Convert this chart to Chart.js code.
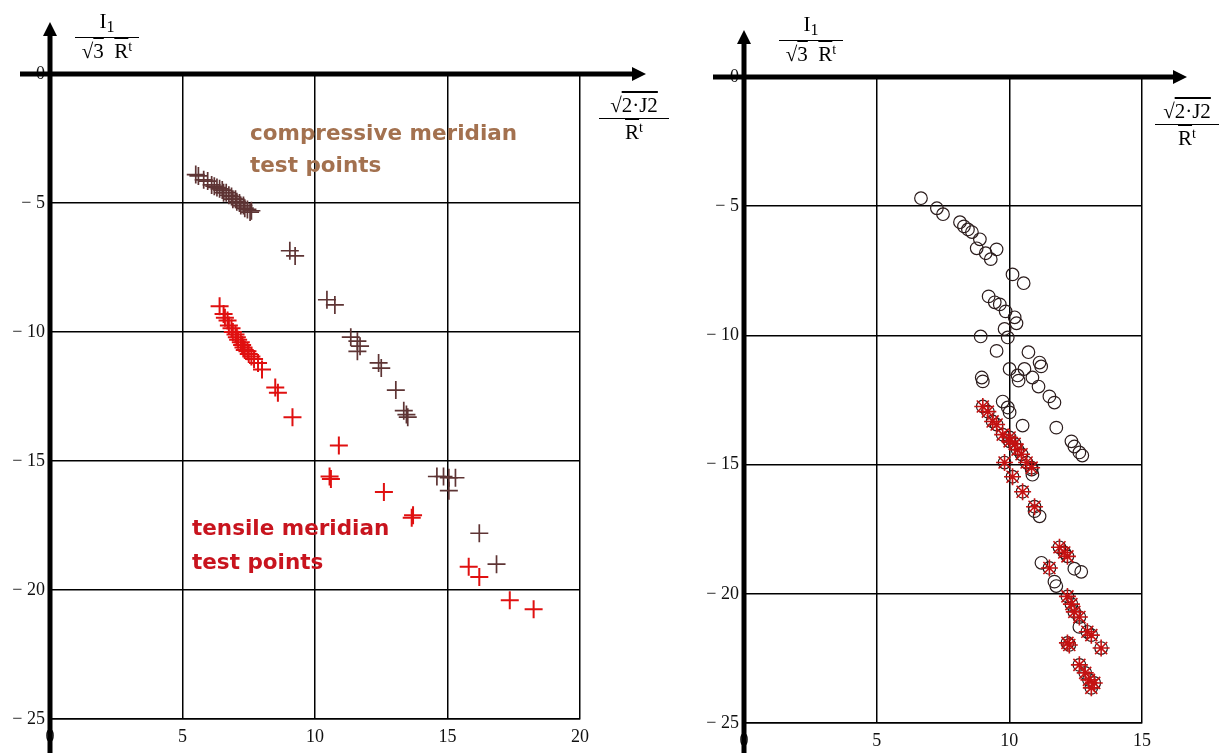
<!DOCTYPE html>
<html>
<head>
<meta charset="utf-8">
<script src="https://cdn.jsdelivr.net/npm/chart.js@4.4.1/dist/chart.umd.min.js"></script>
<style>
  body { margin: 0; background: #fff; }
  #wrap { position: relative; width: 1219px; height: 753px; overflow: hidden; background: #fff; }
  canvas { position: absolute; top: 0; }
  .frac { position: absolute; font-family: "Liberation Serif", "Times New Roman", serif; font-size: 21px;
          color: #000; text-align: center; line-height: 1; }
  .frac .num { border-bottom: 1.5px solid #000; padding-bottom: 2px; }
  .frac .den { padding-top: 2px; }
  .frac sub { font-size: 16px; vertical-align: -4px; }
  .frac sup { font-size: 14px; vertical-align: 7px; }
  .ov { text-decoration: overline; }
  .note { position: absolute; font-family: "DejaVu Sans", Verdana, sans-serif; font-weight: bold; font-size: 21.5px; }
</style>
</head>
<body>
<div id="wrap">
  <canvas id="left" width="690" height="753" style="left:0px"></canvas>
  <canvas id="right" width="529" height="753" style="left:690px"></canvas>

  <div class="frac" style="left:75px; top:11px; width:64px;">
    <div class="num">I<sub>1</sub></div>
    <div class="den">√<span class="ov">3</span>&nbsp;&nbsp;<span class="ov">R</span><sup>t</sup></div>
  </div>
  <div class="frac" style="left:599px; top:95px; width:70px;">
    <div class="num">√<span class="ov">2·J2</span></div>
    <div class="den"><span class="ov">R</span><sup>t</sup></div>
  </div>
  <div class="frac" style="left:779px; top:14px; width:64px;">
    <div class="num">I<sub>1</sub></div>
    <div class="den">√<span class="ov">3</span>&nbsp;&nbsp;<span class="ov">R</span><sup>t</sup></div>
  </div>
  <div class="frac" style="left:1155px; top:101px; width:64px;">
    <div class="num">√<span class="ov">2·J2</span></div>
    <div class="den"><span class="ov">R</span><sup>t</sup></div>
  </div>

  <div class="note" style="left:250px; top:117px; line-height:32px; color:#a3714f;">compressive meridian<br>test points</div>
  <div class="note" style="left:192px; top:511px; line-height:34px; color:#c8141e;">tensile meridian<br>test points</div>
</div>

<script>
// left panel: compressive (brown) and tensile (red) meridian test points
const compressiveLeft = [
  [5.5, -3.9], [5.6, -3.95], [5.8, -4.1], [5.95, -4.15], [6.1, -4.3], [6.2, -4.35], [6.3, -4.4],
  [6.4, -4.45], [6.5, -4.5], [6.55, -4.6], [6.65, -4.6], [6.75, -4.7], [6.85, -4.75], [6.9, -4.85],
  [7.0, -4.85], [7.05, -4.95], [7.15, -5.0], [7.2, -5.1], [7.3, -5.1], [7.35, -5.2], [7.45, -5.25],
  [7.55, -5.35], [7.6, -5.3],
  [9.05, -6.85], [9.25, -7.05], [10.45, -8.75], [10.75, -8.95],
  [11.35, -10.2], [11.6, -10.35], [11.7, -10.55], [11.6, -10.75], [12.4, -11.2], [12.5, -11.4],
  [13.05, -12.25], [13.35, -13.05], [13.5, -13.3], [13.45, -13.2],
  [14.6, -15.6], [14.85, -15.6], [15.05, -15.65], [15.3, -15.65], [15.05, -16.15],
  [16.2, -17.8], [16.85, -19.0]
];
const tensileLeft = [
  [6.4, -9.0], [6.55, -9.3], [6.6, -9.45], [6.7, -9.55], [6.75, -9.75], [6.85, -9.85], [6.9, -10.0],
  [7.0, -10.1], [7.05, -10.2], [7.1, -10.3], [7.2, -10.4], [7.25, -10.5], [7.3, -10.6], [7.35, -10.7],
  [7.45, -10.75], [7.5, -10.85], [7.6, -10.95], [7.7, -11.05], [7.85, -11.2], [8.0, -11.45],
  [8.5, -12.15], [8.6, -12.35], [9.15, -13.3], [10.9, -14.4], [10.55, -15.6], [10.6, -15.7],
  [12.6, -16.2], [13.7, -17.1], [13.65, -17.2], [15.8, -19.1], [16.2, -19.5], [17.35, -20.4],
  [18.25, -20.75]
];

// right panel: all test points (circles) and tensile ones (red stars)
const circlesRight = [
  [6.67, -4.69], [7.27, -5.08], [7.5, -5.31], [8.14, -5.62], [8.29, -5.78], [8.44, -5.9], [8.59, -6.0],
  [8.89, -6.28], [8.77, -6.63], [9.11, -6.82], [9.52, -6.67], [9.3, -7.05], [10.12, -7.64],
  [10.54, -7.98], [9.22, -8.49], [9.45, -8.72], [9.64, -8.8], [9.86, -9.07], [10.2, -9.3],
  [10.27, -9.53], [9.82, -9.75], [8.92, -10.04], [9.94, -10.08], [9.52, -10.6], [10.72, -10.65],
  [11.14, -11.05], [11.2, -11.2], [10.01, -11.3], [10.57, -11.3], [10.31, -11.55], [10.35, -11.75],
  [8.96, -11.63], [9.0, -11.78], [10.87, -11.63], [11.1, -11.98], [11.51, -12.36], [11.7, -12.6],
  [9.75, -12.56], [9.94, -12.79], [10.01, -12.98], [10.5, -13.49], [11.77, -13.57], [12.34, -14.1],
  [12.45, -14.3], [12.64, -14.53], [12.75, -14.65], [10.84, -15.19], [10.87, -15.39], [10.95, -16.8],
  [11.14, -17.0], [11.21, -18.8], [12.45, -19.03], [12.71, -19.15], [11.7, -19.53], [11.77, -19.7],
  [12.64, -21.28]
];
const starsRight = [
  [9.0, -12.75], [9.19, -12.95], [9.37, -13.33], [9.52, -13.45], [9.75, -13.84], [10.01, -13.95],
  [10.01, -14.1], [10.2, -14.2], [10.31, -14.42], [10.46, -14.6], [10.65, -14.92], [10.84, -15.12],
  [9.82, -14.92], [10.12, -15.47], [10.5, -16.05], [10.95, -16.63], [11.89, -18.2], [12.07, -18.4],
  [12.19, -18.55], [11.51, -19.0], [12.19, -20.1], [12.34, -20.4], [12.45, -20.7], [12.64, -20.9],
  [12.94, -21.47], [13.09, -21.6], [12.19, -21.9], [12.26, -21.98], [13.46, -22.1], [12.64, -22.75],
  [12.86, -23.06], [13.0, -23.33], [13.2, -23.45], [13.09, -23.64]
];

const xTicksLeft = [0, 5, 10, 15, 20];
const xTicksRight = [0, 5, 10, 15];
const yTicks = [0, -5, -10, -15, -20, -25];

const toPts = arr => arr.map(p => ({ x: p[0], y: p[1] }));

// thick axes through the origin with arrow heads, like the Mathcad plot
const axisArrows = {
  id: 'axisArrows',
  beforeDatasetsDraw(chart, args, opts) {
    const { ctx, scales: { x, y } } = chart;
    const x0 = x.getPixelForValue(0), y0 = y.getPixelForValue(0);
    ctx.save();
    ctx.strokeStyle = '#000';
    ctx.fillStyle = '#000';
    ctx.lineWidth = 5;
    ctx.beginPath();
    ctx.moveTo(x0, opts.top + 10);
    ctx.lineTo(x0, chart.height);
    ctx.moveTo(opts.left, y0);
    ctx.lineTo(opts.right - 10, y0);
    ctx.stroke();
    ctx.beginPath();
    ctx.moveTo(x0, opts.top);
    ctx.lineTo(x0 - 7, opts.top + 14);
    ctx.lineTo(x0 + 7, opts.top + 14);
    ctx.closePath();
    ctx.fill();
    ctx.beginPath();
    ctx.moveTo(opts.right, y0);
    ctx.lineTo(opts.right - 14, y0 - 7);
    ctx.lineTo(opts.right - 14, y0 + 7);
    ctx.closePath();
    ctx.fill();
    ctx.restore();
  }
};

function makeOptions(xTicks, yWidth, xHeight, pad, arrows) {
  const tickFont = { family: "'Liberation Serif', 'Times New Roman', serif", size: 18 };
  return {
    responsive: false,
    animation: false,
    layout: { padding: pad },
    plugins: { legend: { display: false }, tooltip: { enabled: false }, axisArrows: arrows },
    scales: {
      x: {
        type: 'linear',
        min: xTicks[0],
        max: xTicks[xTicks.length - 1],
        afterBuildTicks: s => { s.ticks = xTicks.map(v => ({ value: v })); },
        afterFit: s => { s.height = xHeight; },
        grid: { color: '#000', lineWidth: 1.5, drawTicks: false },
        border: { color: '#000', width: 1.5 },
        ticks: { color: '#111', font: tickFont, padding: 7, maxRotation: 0 }
      },
      y: {
        type: 'linear',
        min: -25,
        max: 0,
        afterBuildTicks: s => { s.ticks = yTicks.map(v => ({ value: v })); },
        afterFit: s => { s.width = yWidth; },
        grid: { color: '#000', lineWidth: 1.5, drawTicks: false },
        border: { color: '#000', width: 1.5 },
        ticks: {
          color: '#111', font: tickFont, padding: 5,
          callback: v => v < 0 ? '\u2212 ' + Math.abs(v) : String(v)
        }
      }
    }
  };
}

new Chart(document.getElementById('left'), {
  type: 'scatter',
  data: {
    datasets: [
      { label: 'tensile', data: toPts(tensileLeft), pointStyle: 'cross', pointRadius: 9,
        borderColor: '#e01010', borderWidth: 2, order: 0 },
      { label: 'compressive', data: toPts(compressiveLeft), pointStyle: 'cross', pointRadius: 9,
        borderColor: '#5e3434', borderWidth: 1.7, order: 1 }
    ]
  },
  options: makeOptions(xTicksLeft, 50, 34, { left: 0, right: 110, top: 74, bottom: 0 },
    { top: 22, left: 20, right: 646 }),
  plugins: [axisArrows]
});

new Chart(document.getElementById('right'), {
  type: 'scatter',
  data: {
    datasets: [
      { label: 'tensile', data: toPts(starsRight), pointStyle: 'star', pointRadius: 8.5,
        borderColor: '#c41212', borderWidth: 1.6, order: 0 },
      { label: 'all', data: toPts(circlesRight.concat(starsRight)), pointStyle: 'circle', pointRadius: 6.3,
        borderColor: '#2b1c1c', backgroundColor: 'rgba(0,0,0,0)', borderWidth: 1.2, order: 1 }
    ]
  },
  options: makeOptions(xTicksRight, 54, 30, { left: 0, right: 77, top: 77, bottom: 0 },
    { top: 30, left: 23, right: 497 }),
  plugins: [axisArrows]
});
</script>
</body>
</html>
